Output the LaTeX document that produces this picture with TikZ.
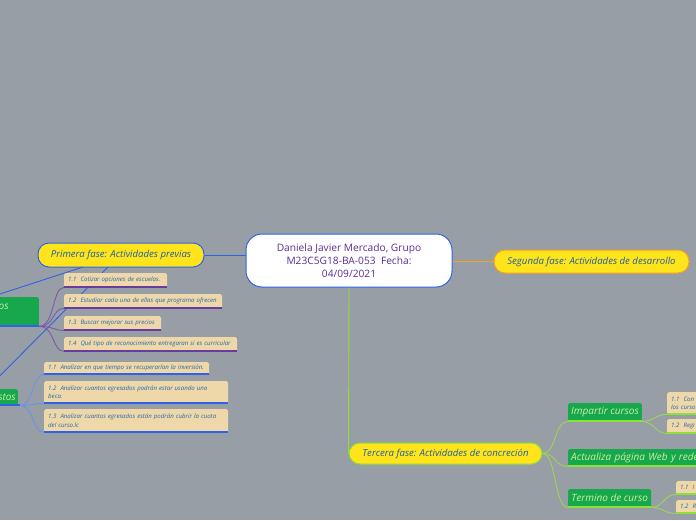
\documentclass[tikz,border=0pt]{standalone}
\usepackage{fontspec}
\setmainfont{Open Sans}
\definecolor{bg}{HTML}{979EA6}
\definecolor{cblue}{HTML}{2E63E6}
\definecolor{cpurple}{HTML}{5C2D91}
\definecolor{pillfill}{HTML}{FFE31B}
\definecolor{pilltext}{HTML}{1C5FA8}
\definecolor{corange}{HTML}{F5A020}
\definecolor{clime}{HTML}{8CE03A}
\definecolor{climecurve}{HTML}{9CD45C}
\definecolor{gfill}{HTML}{17A84E}
\definecolor{gtext}{HTML}{CDEFA2}
\definecolor{tanfill}{HTML}{EED7A9}
\definecolor{tantext}{HTML}{2268AC}
\definecolor{uprple}{HTML}{6A3A9E}
\definecolor{prplcurve}{HTML}{7E5AA8}
\begin{document}
\begin{tikzpicture}[x=1pt,y=-1pt,
  central/.style={fill=white,draw=cblue,line width=1pt,rounded corners=16pt,
    minimum width=206pt,minimum height=53pt,align=center,text=cpurple,
    font=\fontsize{10.2}{13}\selectfont,inner sep=0pt},
  pill/.style={fill=pillfill,draw=#1,line width=1pt,rounded corners=11pt,
    text=pilltext,font=\fontsize{9.6}{11}\selectfont\itshape,inner sep=0pt},
  tanbox/.style={fill=tanfill,rounded corners=1.5pt,anchor=north west,
    inner xsep=4pt,inner ysep=0pt,text width=#1,align=left,
    font=\fontsize{6.1}{8.5}\selectfont\itshape,text=tantext},
  greenbox/.style={fill=gfill,rounded corners=1.5pt,anchor=north west,
    inner xsep=3pt,inner ysep=0pt,text=gtext,
    font=\fontsize{10}{12}\selectfont\itshape},
  gtxt/.style={text=gtext,font=\fontsize{10}{12}\selectfont\itshape,inner sep=0pt},
  uline/.style={draw=#1,line width=2pt},
  conn/.style={draw=#1,line width=0.9pt},
]
\useasboundingbox (0,0) rectangle (696,520);
\fill[bg] (0,0) rectangle (696,520);
\clip (0,0) rectangle (696,520);

% coordinates for free ends of long relation lines
\coordinate (fa) at (-40,307);
\coordinate (fb) at (-30,406);

% main nodes
\node[central] (c) at (349,260.5) {Daniela Javier Mercado, Grupo\\M23C5G18-BA-053~~Fecha:\\04/09/2021};
\node[pill=cblue,minimum width=166pt,minimum height=24pt] (p) at (121,255) {Primera fase: Actividades previas};
\node[pill=corange,minimum width=195pt,minimum height=23pt] (s) at (591.5,261.5) {Segunda fase: Actividades de desarrollo};
\node[pill=clime,minimum width=193pt,minimum height=21pt] (t) at (445.5,453.5) {Tercera fase: Actividades de concreción};

% long relation lines (behind boxes)
\coordinate (pa) at (83,267);
\coordinate (pb) at (108,267);
\draw[conn=cblue] (pa) -- (fa);
\draw[conn=cblue] (pb) -- (fb);

% left green boxes
\node[fill=gfill,rounded corners=1.5pt,anchor=north east,minimum width=80pt,minimum height=29pt,inner sep=0pt] (osbox) at (39,297) {};
\node[gtxt,anchor=west] (ostxt) at (-1.5,307) {os};
\node[fill=gfill,rounded corners=1.5pt,anchor=north east,minimum width=60pt,minimum height=16pt,inner sep=0pt] (stbox) at (18,389) {};
\node[gtxt,anchor=east] (sttxt) at (16,397) {stos};
\draw[uline=cblue] (osbox.south west) -- (osbox.south east);
\draw[uline=cblue] (stbox.south west) -- ([xshift=2pt]stbox.south east);

% purple subtopics
\node[tanbox=95pt,minimum height=14pt] (a1) at (64,273) {1.1~~Cotizar opciones de escuelas.};
\node[tanbox=150pt,minimum height=14pt] (a2) at (64,294) {1.2~~Estudiar cada una de ellas que programa ofrecen};
\node[tanbox=89pt,minimum height=14pt] (a3) at (64,316) {1.3~~Buscar mejorar sus precios};
\node[tanbox=165pt,minimum height=14pt] (a4) at (64,337) {1.4~~Qué tipo de reconocimiento entregaran si es curricular};
\foreach \n in {a1,a2,a3,a4}{
  \draw[uline=uprple] (\n.south west) -- (\n.south east);
  \draw[conn=prplcurve] (osbox.south east) .. controls +(16,0) and +(-12,0) .. (\n.south west);
}

% blue subtopics
\node[tanbox=157pt,minimum height=12pt] (b1) at (44,362) {1.1~~Analizar en que tiempo se recuperarían la inversión.};
\node[tanbox=176pt,minimum height=22pt] (b2) at (44,381) {1.2~~Analizar cuantos egresados podrán estar usando una\\beca.};
\node[tanbox=176pt,minimum height=23pt] (b3) at (44,409) {1.3~~Analizar cuantos egresados están podrán cubrir la cuota\\del curso.lc};
\foreach \n in {b1,b2,b3}{
  \draw[uline=cblue] (\n.south west) -- (\n.south east);
  \draw[conn=cblue!70!white] ([xshift=2pt]stbox.south east) .. controls +(14,0) and +(-12,0) .. (\n.south west);
}

% main connectors
\draw[conn=cblue] (p.east) -- (p.east -| c.west);
\draw[conn=corange] (c.east |- s.west) -- (s.west);
\draw[conn=clime] (c.south) -- (t.west);

% tercera children
\node[greenbox,minimum width=73pt,minimum height=18pt] (g1) at (568,403) {Impartir cursos};
\node[greenbox,minimum width=150pt,minimum height=17pt,align=left,text width=180pt] (g2) at (568,449) {Actualiza página Web y redes sociales};
\node[greenbox,minimum width=83pt,minimum height=18pt] (g3) at (568,489) {Termino de curso};
\foreach \n in {g1,g2,g3}{
  \draw[uline=clime] (\n.south west) -- (\n.south east);
  \draw[conn=climecurve] (t.east) .. controls +(14,0) and +(-14,0) .. (\n.south west);
}

% impartir children
\node[tanbox=60pt,minimum height=22pt] (h1) at (667,392) {1.1~~Con\\los curso};
\node[tanbox=60pt,minimum height=14pt] (h2) at (667,419) {1.2~~Regi};
% termino children
\node[tanbox=60pt,minimum height=13pt] (k1) at (676,481) {1.1~~I};
\node[tanbox=60pt,minimum height=13pt] (k2) at (676,500) {1.2~~R};
\foreach \n/\m in {h1/g1,h2/g1,k1/g3,k2/g3}{
  \draw[uline=clime] (\n.south west) -- (\n.south east);
  \draw[conn=climecurve] (\m.south east) .. controls +(12,0) and +(-12,0) .. (\n.south west);
}
\end{tikzpicture}
\end{document}
